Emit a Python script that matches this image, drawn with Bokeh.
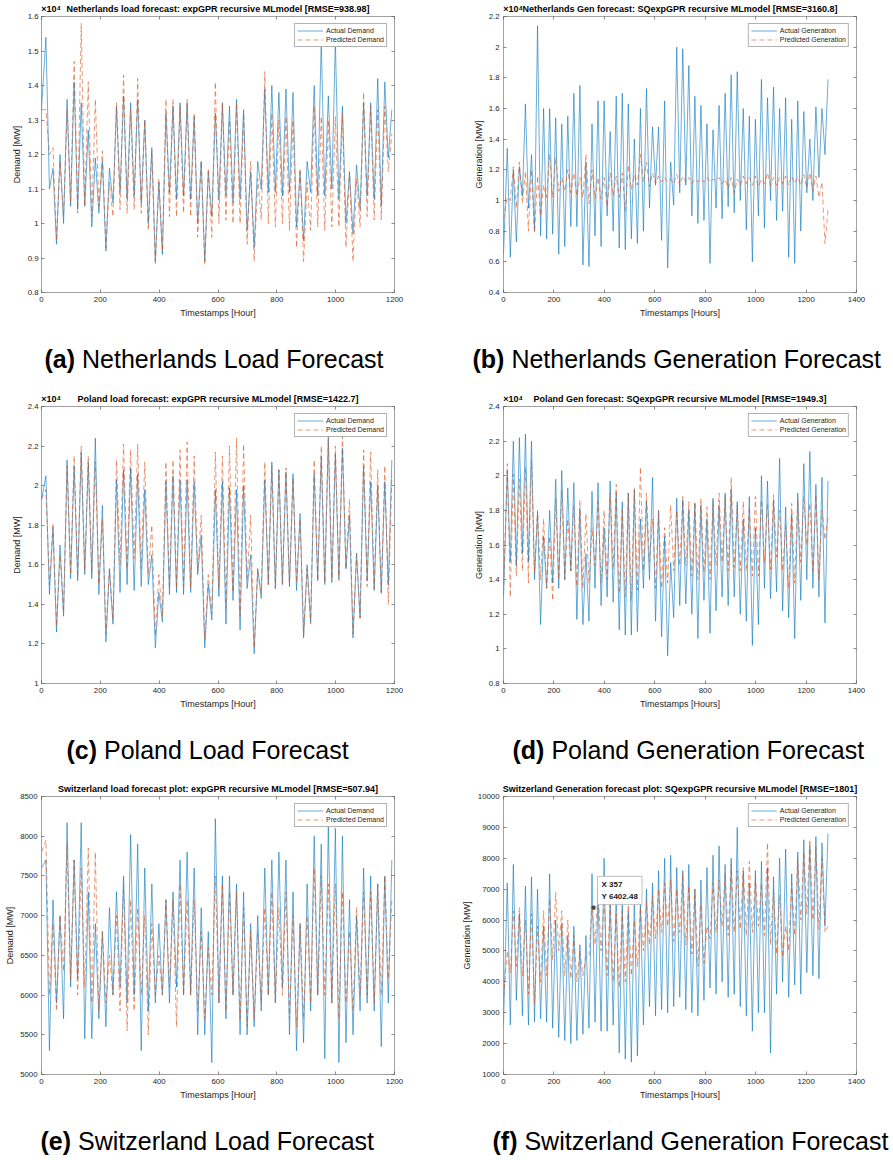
import numpy as np
from bokeh.plotting import figure
from bokeh.models import Range1d, FixedTicker, LinearAxis, Label
from bokeh.core.properties import value
from bokeh.layouts import column, row
from bokeh.embed import file_html
from bokeh.resources import INLINE

# ---------------- data (MW); daily low (early morning) and daily high values ----------------
# Netherlands load, 50 days
nl_load_act_lo = [13300,11000,9400,10000,10500,10400,10500,9900,10300,9200,
                  10600,10900,10700,10800,10600,10000,8900,9100,10900,10700,
                  10800,10700,10000,8900,10200,10700,10800,10600,10700,9800,
                  9300,11000,10900,10900,10800,10900,9900,9500,10900,10800,
                  10800,11000,10700,10000,9700,10400,10800,10700,10500,11900]
nl_load_act_hi = [15400,11600,12000,13600,14100,13500,12700,11900,11800,11600,
                  13400,13700,13500,13600,13000,12200,11200,13200,13400,13500,
                  13500,13100,11800,11500,13200,13500,13400,13600,13300,11500,
                  11800,13900,14000,13800,13900,13800,11500,11800,14000,15300,
                  13700,15300,13400,11500,11700,13500,13500,14200,14100,13300]
nl_load_pred_lo = [13300,12000,9500,10200,10600,10300,10500,10200,10500,9300,
                   10200,10400,10300,10400,10300,9800,8800,9200,10200,10200,
                   10300,10200,9600,8800,9600,10000,10100,10000,10000,9400,
                   8900,10100,10000,9900,10000,9800,9300,8900,9800,9900,
                   9800,9900,9900,9300,8900,9900,10200,10100,10100,11500]
nl_load_pred_hi = [13300,12200,11800,13300,14700,15800,14100,13600,12100,11200,
                   13500,14300,13300,14200,13000,12100,11300,13600,13600,13400,
                   13600,13200,11800,11600,14100,13500,13000,13500,13200,11800,
                   11300,14400,13200,13000,13100,13000,11600,11200,13400,13100,
                   13000,13100,13200,11500,11300,13800,13400,13300,13400,12600]

# Netherlands generation, 54 days
nl_gen_act_lo = [6500,6300,7300,10300,9500,8000,7700,7500,7800,6500,
                 7000,8300,8300,5800,5700,7700,7000,9000,8000,6900,
                 6800,7500,7200,8000,9500,11000,7400,5600,9700,10500,
                 11000,9000,8500,8700,5900,9500,8800,9600,9200,10000,
                 8100,6000,9000,8200,10000,8700,9300,6300,5900,8000,
                 10500,10000,11500,13000]
nl_gen_act_hi = [13400,12000,12200,16300,13000,21400,16000,16000,15400,15000,
                 15500,17000,17500,12500,15000,16500,16500,14500,16800,17000,
                 16300,14000,16000,17300,14800,14800,16500,12500,20000,19900,
                 18800,16800,16200,15000,14600,16200,17000,18200,18400,16000,
                 15500,15300,17900,16700,17400,16000,16700,15300,16500,15800,
                 14000,16100,16000,17900]
nl_gen_pred_lo = [8800,10000,9500,9800,8000,7900,9000,10200,10200,10600,
                  10600,10500,10300,10200,9800,10100,10100,9600,10300,10200,
                  9300,10700,11000,11200,10900,11100,11200,11200,11100,11000,
                  11200,11100,11200,11200,11200,11300,11100,10800,10500,11000,
                  11100,11000,10900,11100,11000,11000,11100,11000,11100,11000,
                  10800,10600,10200,7200]
nl_gen_pred_hi = [10200,12200,12500,11900,12000,11600,11000,13000,12800,11500,
                  12000,11800,11500,13000,12000,11500,11500,11800,11600,11800,
                  12300,11700,13000,12500,11800,11600,11500,11400,11700,11600,
                  11500,11400,11400,11500,11400,11500,11400,11500,11400,11600,
                  11500,11600,11400,11800,11500,11500,11600,11600,11500,11700,
                  11800,11600,11200,9400]

# Poland load, 50 days
pl_load_act_lo = [19300,14500,12600,13400,15300,15200,15500,15300,14500,12100,
                  13000,14600,15000,14700,14900,15000,11800,13100,14500,14600,
                  14500,14600,15500,11800,13200,14400,13000,14200,12700,14800,
                  11500,14300,15000,14800,15000,14900,14700,12300,13100,15200,
                  15000,15100,15300,15800,12300,13300,15200,14700,14600,15000]
pl_load_act_hi = [20500,17900,17000,21300,21000,21700,21200,22400,19000,15800,
                  20300,20800,20900,20600,19800,16500,14600,20200,20500,20300,
                  20300,20200,17500,15000,19800,20200,19900,19800,20000,16500,
                  15800,20300,21200,20800,20700,20600,18600,16000,20600,21500,
                  22500,21600,21900,18500,16600,21000,20200,20000,20200,21300]
pl_load_pred_lo = [19300,15000,12900,13600,15500,15400,15700,15600,15000,12500,
                   13200,16000,15800,16300,15800,15500,12400,13400,14800,14800,
                   14900,14800,15700,12200,13500,14800,13800,14600,13400,15200,
                   11800,14600,15000,14800,15000,14900,15100,12500,13000,15200,
                   15100,15300,15200,15800,12500,13300,14900,14800,14500,14000]
pl_load_pred_hi = [19800,18100,16500,21000,21500,22000,21500,21200,18300,15800,
                   21300,22100,21800,22100,21200,18000,15500,21200,21300,21800,
                   22200,21500,18500,15500,21700,21500,22000,22400,22100,18500,
                   15800,21200,21000,20800,20900,20400,18300,15800,21300,22000,
                   22300,22000,22500,19300,16500,21800,21700,20800,21000,20500]

# Poland generation, 54 days
pl_gen_act_lo = [13000,15000,14800,15500,15000,14000,11400,13500,13800,13500,
                 14000,14500,11700,11400,11600,13500,12500,13000,12700,11100,
                 10800,10800,11000,13500,14000,11600,10700,9600,11800,12500,
                 12600,12000,10600,12800,10900,12200,13000,12500,13000,12000,
                 11600,10200,11400,13500,12900,13300,12200,11800,10600,12800,
                 14000,13500,13000,11500]
pl_gen_act_hi = [20300,22000,22200,22400,22000,17900,16500,18000,19800,20300,
                 19300,19600,18100,15500,19100,19600,17000,19700,19000,18500,
                 19000,19200,17500,18500,19900,18000,16500,15000,18700,18600,
                 18000,18400,18300,17500,18700,18300,19000,19200,18500,17500,
                 18800,17000,20000,19700,18600,21000,18200,17800,19000,20700,
                 21400,19500,19900,19700]
pl_gen_pred_lo = [13200,13000,14200,14500,13800,14400,14000,13500,12800,14000,
                  14000,14500,13600,13500,13800,14800,13800,14000,14600,13200,
                  13000,12800,13400,14500,15000,13500,13500,13800,14500,14800,
                  14800,14200,14000,14400,14000,14800,15000,14500,14700,14500,
                  14500,14200,14200,15000,14600,15300,14500,13500,13800,15000,
                  16000,14500,14000,16300]
pl_gen_pred_hi = [20700,20100,19800,20500,20900,18000,17500,16500,18700,19200,
                  17500,18300,18600,17800,17000,18500,18000,19000,19500,18000,
                  19000,19300,20500,19000,17500,18000,17000,18300,18000,18800,
                  18500,18500,18700,18200,18500,19000,18800,19900,18300,18500,
                  18200,18800,18600,18400,18900,18000,17200,18400,18600,18800,
                  18400,18900,18000,17600]

# Switzerland load, 50 days
ch_load_act_lo = [7600,5300,5900,5700,6100,6200,5450,5450,5700,5600,
                  6000,6100,5900,6000,5300,5800,5900,6000,5900,6100,
                  6000,6000,5500,5500,5150,5900,5700,6000,5500,5500,
                  5600,5800,6000,5900,6100,5500,5300,5400,5800,6000,
                  5200,5900,5150,5400,5500,5800,5900,5800,5350,5900]
ch_load_act_hi = [7700,7200,7000,8170,7700,8170,7300,6900,6800,7100,
                  7300,7500,8020,7900,7600,7400,6900,7200,7300,7700,
                  7800,7600,7100,6800,8220,7500,7500,7400,7300,6900,
                  7000,7600,7700,7800,7700,7300,6900,7400,8000,7900,
                  8150,8100,8000,7200,7000,7600,7500,7400,7500,7700]
ch_load_pred_lo = [7800,6000,5800,6300,6200,6000,6100,5900,5800,5900,
                   6000,5800,5550,5800,6000,5500,6000,6000,6100,5600,
                   6000,6000,5800,5700,6000,5900,5800,6000,5700,5600,
                   5700,5900,6000,5900,6000,5700,5600,5700,5900,6000,
                   6000,5900,5700,5900,5800,6000,6000,5900,6000,6200]
ch_load_pred_hi = [7950,6900,7000,7900,7700,7600,7850,7800,6800,6500,
                   7000,7400,7200,7100,7000,6900,6500,7200,7200,7400,
                   7200,7200,6800,6600,7500,7400,7300,7300,7100,6800,
                   6800,7100,7300,7100,7300,7000,6900,7000,7600,7500,
                   7400,7400,7300,6800,7100,7300,7300,7400,7500,7200]

# Switzerland generation, 54 days
ch_gen_act_lo = [2600,2600,3400,2900,2600,2700,2800,2700,2500,2200,
                 2100,2000,2100,2300,2500,2700,2400,2400,2600,1700,
                 1500,1400,1600,2600,3200,2900,3100,3000,3200,3500,
                 3100,3000,2900,3400,3800,3600,4000,3500,3600,3200,
                 2900,2400,3000,3000,1700,3600,4000,3500,3900,3600,
                 4300,4200,4100,5800]
ch_gen_act_hi = [7200,7800,6200,7100,7400,7000,5800,7500,6000,5900,
                 5500,5800,5200,5500,7500,6900,8000,6800,7000,6500,
                 6300,6800,6600,7000,7200,7600,8000,8100,7700,7600,
                 7800,7000,7300,7700,8100,8400,7800,8000,9000,7600,
                 7200,7600,7900,7700,7400,8000,8300,7500,8200,8600,
                 8400,8700,8500,8800]
ch_gen_pred_lo = [3500,4300,4500,4200,3600,3300,4000,4200,4700,5000,
                  4200,4100,4000,4200,4800,5200,5000,4200,4000,3800,
                  4000,4200,4500,5000,5200,5400,5600,5800,5300,5600,
                  5200,4900,4500,4600,5400,5600,5800,5500,5600,5700,
                  5500,5600,5800,5500,5200,4900,4800,5000,5500,6000,
                  6200,6000,5700,5600]
ch_gen_pred_hi = [5000,6300,6400,6000,6200,5800,6300,6700,6900,6300,
                  6000,5500,5000,4800,6400,7000,6800,6500,6200,6300,
                  6500,6000,6400,6600,6800,7000,7200,7300,7000,7500,
                  7100,7000,6500,5800,7200,7300,7500,7800,7600,7700,
                  7900,7400,7200,8500,7000,6800,5800,7200,8000,8200,
                  8600,8400,8000,5800]

# data tip shown on the Switzerland generation plot
tip_x = 357
tip_y = 6402.48

# tick values
x_ticks_1200 = [0, 200, 400, 600, 800, 1000, 1200]
x_ticks_1400 = [0, 200, 400, 600, 800, 1000, 1200, 1400]
nl_load_yticks = [8000, 9000, 10000, 11000, 12000, 13000, 14000, 15000, 16000]
nl_load_ylabels = ["0.8", "0.9", "1", "1.1", "1.2", "1.3", "1.4", "1.5", "1.6"]
nl_gen_yticks = [4000, 6000, 8000, 10000, 12000, 14000, 16000, 18000, 20000, 22000]
nl_gen_ylabels = ["0.4", "0.6", "0.8", "1", "1.2", "1.4", "1.6", "1.8", "2", "2.2"]
pl_load_yticks = [10000, 12000, 14000, 16000, 18000, 20000, 22000, 24000]
pl_load_ylabels = ["1", "1.2", "1.4", "1.6", "1.8", "2", "2.2", "2.4"]
pl_gen_yticks = [8000, 10000, 12000, 14000, 16000, 18000, 20000, 22000, 24000]
pl_gen_ylabels = ["0.8", "1", "1.2", "1.4", "1.6", "1.8", "2", "2.2", "2.4"]
ch_load_yticks = [5000, 5500, 6000, 6500, 7000, 7500, 8000, 8500]
ch_load_ylabels = ["5000", "5500", "6000", "6500", "7000", "7500", "8000", "8500"]
ch_gen_yticks = [1000, 2000, 3000, 4000, 5000, 6000, 7000, 8000, 9000, 10000]
ch_gen_ylabels = ["1000", "2000", "3000", "4000", "5000", "6000", "7000", "8000", "9000", "10000"]

# ---------------- styling ----------------
FONT = "Liberation Sans"
BLUE = "#0072BD"
ORANGE = "#D95319"
FRAME = "#8a8a8a"
TICK = "#5a5a5a"
TXT = "#262626"
BOTTOM = 30
CAP_SIZE = "25px"


def build_series(lo, hi):
    n = len(lo)
    d = np.arange(n)
    t = np.empty(2 * n)
    v = np.empty(2 * n)
    t_lo = 24 * d + 3.0
    t_lo[0] = 0.0
    t[0::2] = t_lo
    t[1::2] = 24 * d + 15.0
    v[0::2] = lo
    v[1::2] = hi
    return t, v


def make_panel(w, frame, xmax, xticks, yticks, ylabels, ylabel, xlabel, title,
               exponent, names, act, pred, ytick_standoff, ylabel_standoff):
    l, r, t, b = frame
    h = b + BOTTOM
    p = figure(width=w, height=h, x_range=Range1d(0, xmax),
               y_range=Range1d(yticks[0], yticks[-1]),
               output_backend="svg", toolbar_location=None,
               min_border_left=l, min_border_right=w - r,
               min_border_top=t, min_border_bottom=BOTTOM)
    p.background_fill_color = "white"
    p.border_fill_color = "white"
    p.outline_line_color = FRAME
    p.outline_line_width = 0.8
    p.grid.visible = False

    ta, tv = build_series(*act)
    tp, vp = build_series(*pred)
    p.line(ta, tv, line_color=BLUE, line_width=0.65, line_alpha=0.9, legend_label=names[0])
    p.line(tp, vp, line_color=ORANGE, line_width=0.7, line_alpha=0.85,
           line_dash="5 3", legend_label=names[1])

    xt = FixedTicker(ticks=xticks)
    yt = FixedTicker(ticks=yticks)
    for ax in p.xaxis:
        ax.ticker = xt
        ax.axis_label = xlabel
        ax.axis_label_standoff = 3
        ax.major_label_standoff = 4
    for ax in p.yaxis:
        ax.ticker = yt
        ax.major_label_overrides = {k: s for k, s in zip(yticks, ylabels)}
        ax.axis_label = ylabel
        ax.axis_label_standoff = ylabel_standoff
        ax.major_label_standoff = ytick_standoff
    for ax in list(p.xaxis) + list(p.yaxis):
        ax.axis_label_text_font = FONT
        ax.axis_label_text_font_size = "9px"
        ax.axis_label_text_font_style = "normal"
        ax.axis_label_text_color = TXT
        ax.axis_line_color = None
        ax.major_tick_in = 3
        ax.major_tick_out = 0
        ax.major_tick_line_color = TICK
        ax.major_tick_line_width = 0.7
        ax.minor_tick_line_color = None
        ax.major_label_text_font = FONT
        ax.major_label_text_font_size = "7.8px"
        ax.major_label_text_color = TXT

    # top axis: inward ticks (as minor ticks) + title and exponent as labels
    top_ticks = [xmax / 2] + ([xmax * 0.027] if exponent else [])
    top_labels = {xmax / 2: title}
    if exponent:
        top_labels[xmax * 0.027] = "\u00d710\u2074"
    top = LinearAxis(ticker=FixedTicker(ticks=top_ticks, minor_ticks=xticks),
                     major_label_overrides=top_labels,
                     major_label_standoff=3, major_tick_in=0, major_tick_out=0,
                     major_tick_line_color=None, axis_line_color=None,
                     minor_tick_in=3, minor_tick_out=0, minor_tick_line_color=TICK,
                     minor_tick_line_width=0.7,
                     major_label_text_font=FONT, major_label_text_font_size="9px",
                     major_label_text_font_style="bold", major_label_text_color="black")
    right = LinearAxis(ticker=FixedTicker(ticks=[], minor_ticks=yticks),
                       major_label_standoff=0, major_tick_in=0, major_tick_out=0,
                       axis_line_color=None, minor_tick_in=3, minor_tick_out=0,
                       minor_tick_line_color=TICK, minor_tick_line_width=0.7)
    p.add_layout(top, "above")
    p.add_layout(right, "right")

    lg = p.legend[0]
    lg.location = "top_right"
    lg.margin = 7
    lg.padding = 2
    lg.spacing = 0
    lg.label_height = 9
    lg.glyph_height = 9
    lg.glyph_width = 26
    lg.label_standoff = 3
    lg.label_text_font = FONT
    lg.label_text_font_size = "7px"
    lg.label_text_color = TXT
    lg.border_line_color = "#666666"
    lg.border_line_width = 0.7
    lg.background_fill_color = "white"
    lg.background_fill_alpha = 1.0
    return p


def make_caption(w, h, letter, text, x0, dx, baseline_from_top):
    c = figure(width=w, height=h, x_range=Range1d(0, w), y_range=Range1d(0, h),
               output_backend="svg", toolbar_location=None,
               x_axis_location=None, y_axis_location=None,
               min_border=0, min_border_left=0, min_border_right=0,
               min_border_top=0, min_border_bottom=0)
    c.outline_line_color = None
    c.grid.visible = False
    c.background_fill_color = "white"
    c.border_fill_color = "white"
    yb = h - baseline_from_top
    c.text(x=[x0], y=[yb], text=[letter], text_font=value(FONT),
           text_font_size=value(CAP_SIZE), text_font_style="bold",
           text_baseline="alphabetic", text_align="left", text_color="black")
    c.text(x=[x0 + dx], y=[yb], text=[text], text_font=value(FONT),
           text_font_size=value(CAP_SIZE), text_font_style="normal",
           text_baseline="alphabetic", text_align="left", text_color="black")
    return c


pa = make_panel(446, (41, 394, 14, 292), 1200, x_ticks_1200, nl_load_yticks, nl_load_ylabels,
                "Demand [MW]", "Timestamps [Hour]",
                "Netherlands load forecast: expGPR recursive MLmodel [RMSE=938.98]", True,
                ["Actual Demand", "Predicted Demand"],
                (nl_load_act_lo, nl_load_act_hi), (nl_load_pred_lo, nl_load_pred_hi), 3, 3)
pb = make_panel(447, (57, 410, 14, 292), 1400, x_ticks_1400, nl_gen_yticks, nl_gen_ylabels,
                "Generation [MW]", "Timestamps [Hours]",
                "Netherlands Gen forecast: SQexpGPR recursive MLmodel [RMSE=3160.8]", True,
                ["Actual Generation", "Predicted Generation"],
                (nl_gen_act_lo, nl_gen_act_hi), (nl_gen_pred_lo, nl_gen_pred_hi), 4, 2)
pc = make_panel(446, (41, 394, 15, 293), 1200, x_ticks_1200, pl_load_yticks, pl_load_ylabels,
                "Demand [MW]", "Timestamps [Hour]",
                "Poland load forecast: expGPR recursive MLmodel [RMSE=1422.7]", True,
                ["Actual Demand", "Predicted Demand"],
                (pl_load_act_lo, pl_load_act_hi), (pl_load_pred_lo, pl_load_pred_hi), 3, 3)
pd_ = make_panel(447, (57, 410, 15, 293), 1400, x_ticks_1400, pl_gen_yticks, pl_gen_ylabels,
                 "Generation [MW]", "Timestamps [Hours]",
                 "Poland Gen forecast: SQexpGPR recursive MLmodel [RMSE=1949.3]", True,
                 ["Actual Generation", "Predicted Generation"],
                 (pl_gen_act_lo, pl_gen_act_hi), (pl_gen_pred_lo, pl_gen_pred_hi), 4, 2)
pe = make_panel(446, (41, 394, 16, 294), 1200, x_ticks_1200, ch_load_yticks, ch_load_ylabels,
                "Demand [MW]", "Timestamps [Hour]",
                "Switzerland load forecast plot: expGPR recursive MLmodel [RMSE=507.94]", False,
                ["Actual Demand", "Predicted Demand"],
                (ch_load_act_lo, ch_load_act_hi), (ch_load_pred_lo, ch_load_pred_hi), 4, 2)
pf = make_panel(447, (57, 410, 16, 294), 1400, x_ticks_1400, ch_gen_yticks, ch_gen_ylabels,
                "Generation [MW]", "Timestamps [Hours]",
                "Switzerland Generation forecast plot: SQexpGPR recursive MLmodel [RMSE=1801]", False,
                ["Actual Generation", "Predicted Generation"],
                (ch_gen_act_lo, ch_gen_act_hi), (ch_gen_pred_lo, ch_gen_pred_hi), 4, 3)

# data tip on panel (f)
pf.scatter([tip_x], [tip_y], marker="square", size=3, fill_color="#444444", line_color="#444444")
pf.add_layout(Label(x=tip_x, y=tip_y, x_offset=4, y_offset=3,
                    text=f"X {tip_x}\nY {tip_y:.2f}",
                    text_font=FONT, text_font_size="8px", text_font_style="bold",
                    text_color="#1a1a1a", text_line_height=1.25,
                    text_align="left", text_baseline="bottom", padding=4,
                    background_fill_color="white", background_fill_alpha=1.0,
                    border_line_color="#b0b0b0", border_line_width=0.8))

# captions (rows: 390, 390, 380 px tall in total); baselines near y = 358, 749, 1140
h1 = 390 - (292 + BOTTOM)
h2 = 390 - (293 + BOTTOM)
h3 = 380 - (294 + BOTTOM)
ca = make_caption(446, h1, "(a)", "Netherlands Load Forecast", 44, 37.5, 358 - (292 + BOTTOM))
cb = make_caption(447, h1, "(b)", "Netherlands Generation Forecast", 26, 38.9, 358 - (292 + BOTTOM))
cc = make_caption(446, h2, "(c)", "Poland Load Forecast", 66, 37.5, 749 - 390 - (293 + BOTTOM))
cd = make_caption(447, h2, "(d)", "Poland Generation Forecast", 66, 38.9, 749 - 390 - (293 + BOTTOM))
ce = make_caption(446, h3, "(e)", "Switzerland Load Forecast", 40, 37.5, 1140 - 780 - (294 + BOTTOM))
cf = make_caption(447, h3, "(f)", "Switzerland Generation Forecast", 46, 31.9, 1140 - 780 - (294 + BOTTOM))

layout = column(row(pa, pb), row(ca, cb), row(pc, pd_), row(cc, cd), row(pe, pf), row(ce, cf))
open("out.html", "w").write(file_html(layout, INLINE))
